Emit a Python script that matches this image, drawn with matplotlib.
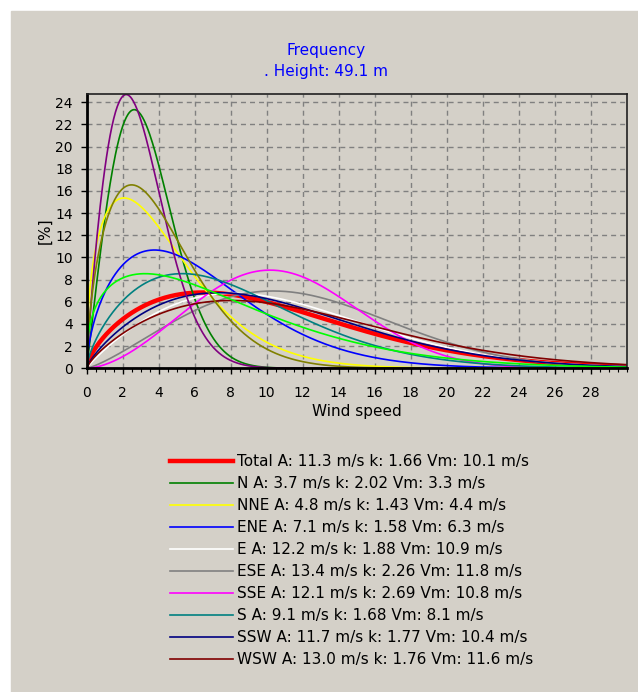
import numpy as np
import matplotlib.pyplot as plt
from matplotlib.patches import Rectangle

# Weibull fit per direction sector: scale A (m/s), shape k, mean speed Vm (m/s)
sectors = ["Total", "N", "NNE", "ENE", "E", "ESE", "SSE", "S", "SSW", "WSW"]
scale_a = [11.3, 3.7, 4.8, 7.1, 12.2, 13.4, 12.1, 9.1, 11.7, 13.0]
shape_k = [1.66, 2.02, 1.43, 1.58, 1.88, 2.26, 2.69, 1.68, 1.77, 1.76]
mean_v = [10.1, 3.3, 4.4, 6.3, 10.9, 11.8, 10.8, 8.1, 10.4, 11.6]
colors = ["#ff0000", "#008000", "#ffff00", "#0000ff", "#ffffff",
          "#808080", "#ff00ff", "#008080", "#000080", "#800000"]

# remaining sectors, drawn but not listed in the legend
extra_a = [3.32, 4.6, 8.6]
extra_k = [1.86, 1.6, 1.36]
extra_colors = ["#800080", "#808000", "#00ff00"]

bg = "#d4d0c8"


def weibull(v, a, k):
    # frequency in percent
    return 100 * k / a * (v / a) ** (k - 1) * np.exp(-(v / a) ** k)


speed = np.linspace(0, 30, 601)

fig = plt.figure(figsize=(6.38, 6.92), dpi=100, facecolor="white")
fig.patches.append(Rectangle((11 / 638, 0), 1, (692 - 11) / 692,
                             transform=fig.transFigure, color=bg, zorder=-1))

ax = fig.add_axes([0.1359, 0.4678, 0.8464, 0.3964])
ax.set_facecolor(bg)

handles = []
labels = []
for name, a, k, vm, c in zip(sectors, scale_a, shape_k, mean_v, colors):
    lw = 3.2 if name == "Total" else 1.2
    line, = ax.plot(speed, weibull(speed, a, k), color=c, lw=lw)
    handles.append(line)
    labels.append(f"{name} A: {a:.1f} m/s k: {k:.2f} Vm: {vm:.1f} m/s")

for a, k, c in zip(extra_a, extra_k, extra_colors):
    ax.plot(speed, weibull(speed, a, k), color=c, lw=1.2)

ax.set_xlim(0, 30)
ax.set_ylim(0, 24.75)
ax.set_xticks(np.arange(0, 29, 2))
ax.set_xticks(np.arange(0, 30.01, 0.5), minor=True)
ax.set_yticks(np.arange(0, 25, 2))
ax.tick_params(axis="both", which="major", direction="out", length=4, width=1, labelsize=10)
ax.tick_params(axis="x", which="major", pad=9)
ax.tick_params(axis="y", which="major", pad=6)
ax.tick_params(axis="x", which="minor", direction="out", length=3, width=0.8)
ax.grid(True, color="#808080", linestyle=(0, (3.6, 2.9)), linewidth=1)
ax.set_axisbelow(True)

for side in ["left", "bottom"]:
    ax.spines[side].set_linewidth(2)
for side in ["top", "right"]:
    ax.spines[side].set_linewidth(1.2)
    ax.spines[side].set_color("#202020")

ax.set_xlabel("Wind speed", fontsize=11)
ax.xaxis.set_label_coords(0.5, -0.158)
ax.xaxis.label.set_va("center")
ax.set_ylabel("[%]", fontsize=11)
ax.yaxis.set_label_coords(-0.077, 0.5)
ax.yaxis.label.set_va("center")

fig.text(0.511, 1 - 50.7 / 692, "Frequency", color="#0000ff",
         ha="center", va="center", fontsize=11)
fig.text(0.511, 1 - 71.7 / 692, ". Height: 49.1 m", color="#0000ff",
         ha="center", va="center", fontsize=11)

fig.legend(handles, labels, loc="upper left", bbox_to_anchor=(0.2665, 0.3437),
           frameon=False, fontsize=11, handlelength=4.1, handletextpad=0.3,
           labelspacing=0.46, borderaxespad=0, borderpad=0)

fig.savefig("out.png", dpi=100)
